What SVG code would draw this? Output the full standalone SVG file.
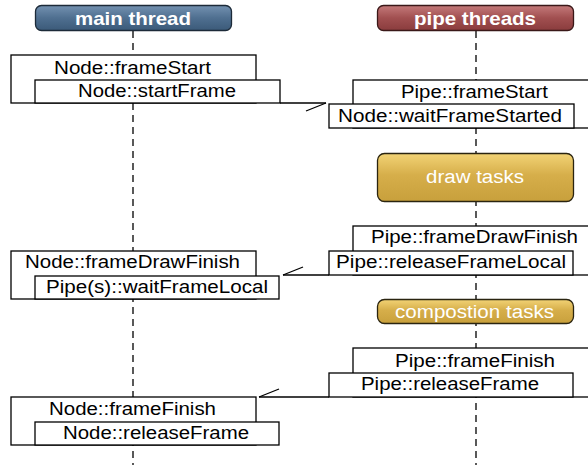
<svg xmlns="http://www.w3.org/2000/svg" width="588" height="465" viewBox="0 0 588 465">
<style>
.box{fill:#fff;stroke:#000;stroke-width:1.3}
.life{stroke:#000;stroke-width:1.3;stroke-dasharray:7 5;fill:none}
.conn{stroke:#000;stroke-width:1.3;fill:none}
.lbl{font-family:"Liberation Sans",Arial,sans-serif;font-size:17.5px;fill:#000;text-anchor:middle}
.hdr{font-family:"Liberation Sans",Arial,sans-serif;font-size:19px;font-weight:bold;fill:#fff;text-anchor:middle}
.task{font-family:"Liberation Sans",Arial,sans-serif;font-size:18px;fill:#fff;text-anchor:middle}
</style>
<defs>
<linearGradient id="gBlue" x1="0" y1="0" x2="0" y2="1">
<stop offset="0" stop-color="#7391b0"/><stop offset="0.5" stop-color="#4f6f90"/><stop offset="1" stop-color="#3b5a79"/>
</linearGradient>
<linearGradient id="gRed" x1="0" y1="0" x2="0" y2="1">
<stop offset="0" stop-color="#c47a7a"/><stop offset="0.5" stop-color="#a14f50"/><stop offset="1" stop-color="#8a3c3d"/>
</linearGradient>
<linearGradient id="gGold" x1="0" y1="0" x2="0" y2="1">
<stop offset="0" stop-color="#f2d375"/><stop offset="0.45" stop-color="#d6ae4a"/><stop offset="1" stop-color="#c8a03c"/>
</linearGradient>
<marker id="half" markerUnits="userSpaceOnUse" markerWidth="30" markerHeight="30" refX="0" refY="0" viewBox="-25 -15 30 30" orient="auto" overflow="visible">
<path d="M0,0 L-20,8" stroke="#000" stroke-width="1.3" fill="none"/>
</marker>
</defs>

<g id="lifelines">
<line class="life" x1="133" y1="31" x2="133" y2="465"/>
<line class="life" x1="476" y1="31" x2="476" y2="465"/>
</g>

<g id="main-thread">
<rect x="35.5" y="5.5" width="196" height="25" rx="6" fill="url(#gBlue)" stroke="#1c2a38" stroke-width="1.3"/>
<text class="hdr" x="133" y="24.5" textLength="116" lengthAdjust="spacingAndGlyphs">main thread</text>
</g>
<g id="pipe-threads">
<rect x="377.5" y="5.5" width="196" height="25" rx="6" fill="url(#gRed)" stroke="#3a1818" stroke-width="1.3"/>
<text class="hdr" x="475" y="24.5" textLength="122" lengthAdjust="spacingAndGlyphs">pipe threads</text>
</g>

<g id="node-frameStart">
<rect class="box" x="11" y="55" width="245" height="48"/>
<text class="lbl" x="132.5" y="74" textLength="157" lengthAdjust="spacingAndGlyphs">Node::frameStart</text>
</g>
<g id="node-startFrame">
<rect class="box" x="35" y="80" width="245" height="23"/>
<text class="lbl" x="157" y="97" textLength="158" lengthAdjust="spacingAndGlyphs">Node::startFrame</text>
</g>

<g id="pipe-frameStart">
<rect class="box" x="353" y="80" width="250" height="48"/>
<text class="lbl" x="474.5" y="98" textLength="147" lengthAdjust="spacingAndGlyphs">Pipe::frameStart</text>
</g>
<g id="node-waitFrameStarted">
<rect class="box" x="329" y="104" width="245" height="24"/>
<text class="lbl" x="450" y="122" textLength="224" lengthAdjust="spacingAndGlyphs">Node::waitFrameStarted</text>
</g>

<g id="draw-tasks">
<rect x="377.5" y="153.5" width="196" height="48" rx="7" fill="url(#gGold)" stroke="#2a2410" stroke-width="1.3"/>
<text class="task" x="475" y="183" textLength="98" lengthAdjust="spacingAndGlyphs">draw tasks</text>
</g>

<g id="pipe-frameDrawFinish">
<rect class="box" x="353" y="226" width="250" height="49"/>
<text class="lbl" x="474.5" y="243" textLength="207" lengthAdjust="spacingAndGlyphs">Pipe::frameDrawFinish</text>
</g>
<g id="pipe-releaseFrameLocal">
<rect class="box" x="329" y="251" width="244" height="24"/>
<text class="lbl" x="451" y="268" textLength="230" lengthAdjust="spacingAndGlyphs">Pipe::releaseFrameLocal</text>
</g>

<g id="node-frameDrawFinish">
<rect class="box" x="11" y="251" width="245" height="48"/>
<text class="lbl" x="132.5" y="268" textLength="215" lengthAdjust="spacingAndGlyphs">Node::frameDrawFinish</text>
</g>
<g id="pipes-waitFrameLocal">
<rect class="box" x="35" y="276" width="244" height="23"/>
<text class="lbl" x="157" y="293" textLength="222" lengthAdjust="spacingAndGlyphs">Pipe(s)::waitFrameLocal</text>
</g>

<g id="compostion-tasks">
<rect x="377.5" y="299.5" width="196" height="24" rx="7" fill="url(#gGold)" stroke="#2a2410" stroke-width="1.3"/>
<text class="task" x="474.5" y="317.5" textLength="159" lengthAdjust="spacingAndGlyphs">compostion tasks</text>
</g>

<g id="pipe-frameFinish">
<rect class="box" x="353" y="348" width="250" height="49"/>
<text class="lbl" x="475" y="367" textLength="160" lengthAdjust="spacingAndGlyphs">Pipe::frameFinish</text>
</g>
<g id="pipe-releaseFrame">
<rect class="box" x="329" y="373" width="244" height="24"/>
<text class="lbl" x="450" y="390" textLength="178" lengthAdjust="spacingAndGlyphs">Pipe::releaseFrame</text>
</g>

<g id="node-frameFinish">
<rect class="box" x="11" y="397" width="245" height="48"/>
<text class="lbl" x="132.5" y="415" textLength="167" lengthAdjust="spacingAndGlyphs">Node::frameFinish</text>
</g>
<g id="node-releaseFrame">
<rect class="box" x="35" y="422" width="244" height="23"/>
<text class="lbl" x="156" y="439" textLength="186" lengthAdjust="spacingAndGlyphs">Node::releaseFrame</text>
</g>

<g id="connectors">
<line class="conn" x1="280" y1="103" x2="326" y2="103" marker-end="url(#half)"/>
<line class="conn" x1="329" y1="275" x2="283" y2="275" marker-end="url(#half)"/>
<line class="conn" x1="329" y1="397" x2="259" y2="397" marker-end="url(#half)"/>
</g>
</svg>
